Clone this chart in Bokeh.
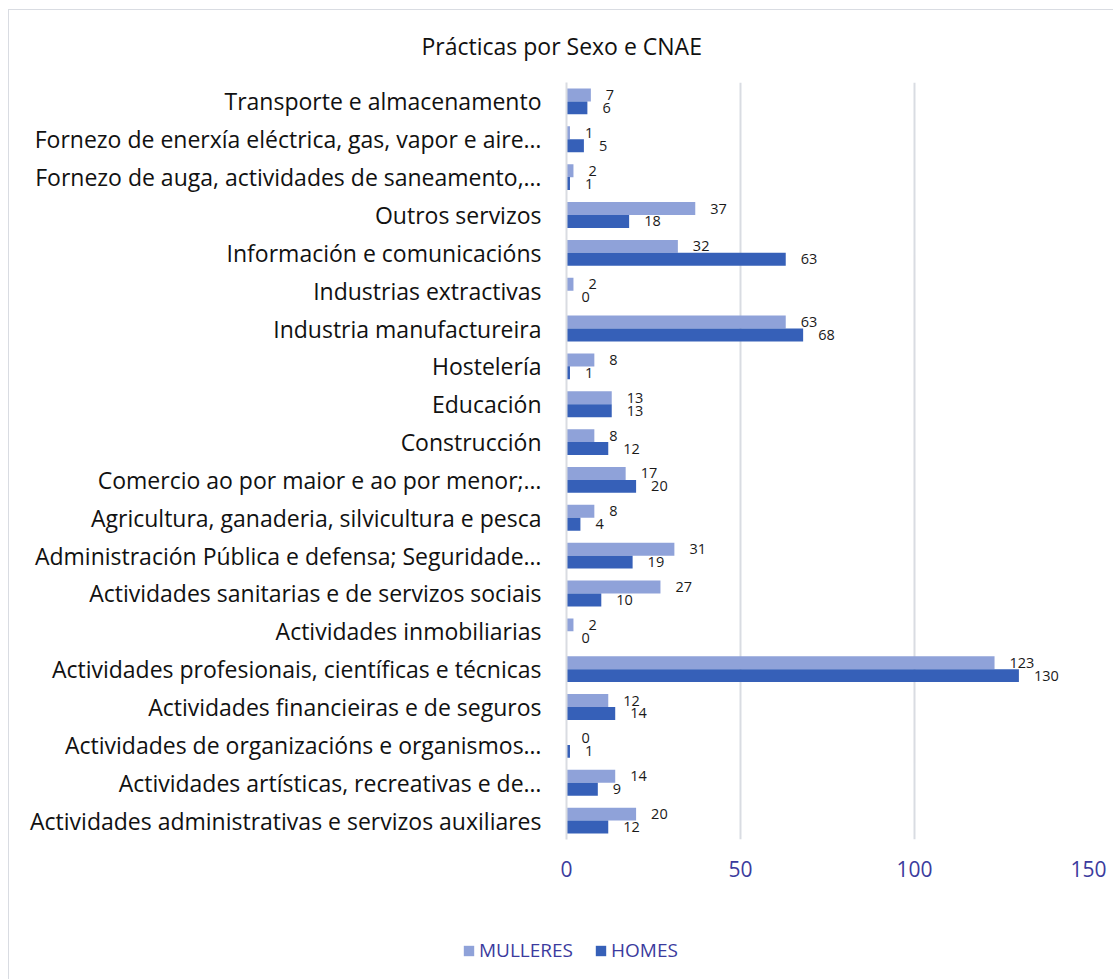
from bokeh.plotting import figure
from bokeh.models import ColumnDataSource, FactorRange, FixedTicker, Legend, LegendItem, Range1d
from bokeh.layouts import column
from bokeh.transform import dodge
from bokeh.core.properties import value
from bokeh.embed import file_html
from bokeh.resources import INLINE

# Categories listed bottom-to-top
categories = [
    "Actividades administrativas e servizos auxiliares",
    "Actividades artísticas, recreativas e de…",
    "Actividades de organizacións e organismos…",
    "Actividades financieiras e de seguros",
    "Actividades profesionais, científicas e técnicas",
    "Actividades inmobiliarias",
    "Actividades sanitarias e de servizos sociais",
    "Administración Pública e defensa; Seguridade…",
    "Agricultura, ganaderia, silvicultura e pesca",
    "Comercio ao por maior e ao por menor;…",
    "Construcción",
    "Educación",
    "Hostelería",
    "Industria manufactureira",
    "Industrias extractivas",
    "Información e comunicacións",
    "Outros servizos",
    "Fornezo de auga, actividades de saneamento,…",
    "Fornezo de enerxía eléctrica, gas, vapor e aire…",
    "Transporte e almacenamento",
]
mulleres = [20, 14, 0, 12, 123, 2, 27, 31, 8, 17, 8, 13, 8, 63, 2, 32, 37, 2, 1, 7]
homes = [12, 9, 1, 14, 130, 0, 10, 19, 4, 20, 12, 13, 1, 68, 0, 63, 18, 1, 5, 6]
x_ticks = [0, 50, 100, 150]

C_MUL = "#8FA2D9"
C_HOM = "#3660B8"
TICK_COLOR = "#3B3B9E"
GRID = "#D9DCE2"
FONT = "Open Sans"

src = ColumnDataSource(dict(
    cat=categories,
    m=mulleres,
    h=homes,
    m_lbl=[str(v) for v in mulleres],
    h_lbl=[str(v) for v in homes],
))

p = figure(
    width=1104, height=900,
    y_range=FactorRange(factors=categories),
    x_range=(0, 150),
    output_backend="svg", toolbar_location=None,
    min_border_left=557, min_border_right=25,
    min_border_top=70, min_border_bottom=71,
    title="Prácticas por Sexo e CNAE",
)
p.outline_line_color = None
p.background_fill_color = "white"
p.border_fill_color = "white"

BAR_H = 0.342
r_m = p.hbar(y=dodge("cat", 0.171, range=p.y_range), right="m", left=0, height=BAR_H,
             source=src, fill_color=C_MUL, line_color=None)
r_h = p.hbar(y=dodge("cat", -0.171, range=p.y_range), right="h", left=0, height=BAR_H,
             source=src, fill_color=C_HOM, line_color=None)

p.text(x="m", y=dodge("cat", 0.171, range=p.y_range), text="m_lbl", source=src,
       x_offset=15, text_align="left", text_baseline="middle",
       text_font=value(FONT), text_font_size="14.5px", text_color="#1a1a1a")
p.text(x="h", y=dodge("cat", -0.171, range=p.y_range), text="h_lbl", source=src,
       x_offset=15, text_align="left", text_baseline="middle",
       text_font=value(FONT), text_font_size="14.5px", text_color="#1a1a1a")

# axes
p.xaxis.ticker = FixedTicker(ticks=x_ticks)
p.xaxis.axis_line_color = None
p.xaxis.major_tick_line_color = None
p.xaxis.major_tick_out = 0
p.xaxis.major_tick_in = 0
p.xaxis.minor_tick_line_color = None
p.xaxis.major_label_text_color = TICK_COLOR
p.xaxis.major_label_text_font = FONT
p.xaxis.major_label_text_font_size = "21px"
p.xaxis.major_label_standoff = 21

p.yaxis.axis_line_color = GRID
p.yaxis.axis_line_width = 2
p.yaxis.major_tick_line_color = None
p.yaxis.major_tick_out = 0
p.yaxis.major_tick_in = 0
p.yaxis.minor_tick_line_color = None
p.yaxis.major_label_text_color = "#111111"
p.yaxis.major_label_text_font = FONT
p.yaxis.major_label_text_font_size = "23px"
p.yaxis.major_label_standoff = 25

p.xgrid.ticker = FixedTicker(ticks=x_ticks)
p.xgrid.grid_line_color = GRID
p.xgrid.grid_line_width = 2
p.ygrid.grid_line_color = None

# title
p.title.align = "left"
p.title.offset = -145
p.title.vertical_align = "top"
p.title.standoff = 38
p.title.text_font = FONT
p.title.text_font_size = "23px"
p.title.text_font_style = "normal"
p.title.text_color = "#111111"

# legend in a small figure below the chart
lf = figure(width=1104, height=69, x_range=Range1d(0, 1), y_range=Range1d(0, 1),
            output_backend="svg", toolbar_location=None, min_border=0)
lf.frame_align = False
lf.axis.visible = False
lf.grid.visible = False
lf.outline_line_color = None
lr_m = lf.hbar(y=0.5, right=1, left=0, height=0.5, fill_color=C_MUL, line_color=None, visible=False)
lr_h = lf.hbar(y=0.5, right=1, left=0, height=0.5, fill_color=C_HOM, line_color=None, visible=False)
legend = Legend(items=[LegendItem(label="MULLERES", renderers=[lr_m]),
                       LegendItem(label="HOMES", renderers=[lr_h])],
                orientation="horizontal", location=(453, 16),
                margin=0, padding=0, spacing=21, label_standoff=4,
                glyph_width=13, glyph_height=13,
                label_text_font=FONT, label_text_font_size="19px",
                label_text_color=TICK_COLOR,
                border_line_color=None, background_fill_alpha=0)
lf.add_layout(legend, "center")

layout = column(p, lf, spacing=0,
                styles={"margin-left": "8px", "margin-top": "9px",
                        "border-left": f"1px solid {GRID}", "border-top": f"1px solid {GRID}"})

open("out.html", "w").write(file_html(layout, INLINE))
